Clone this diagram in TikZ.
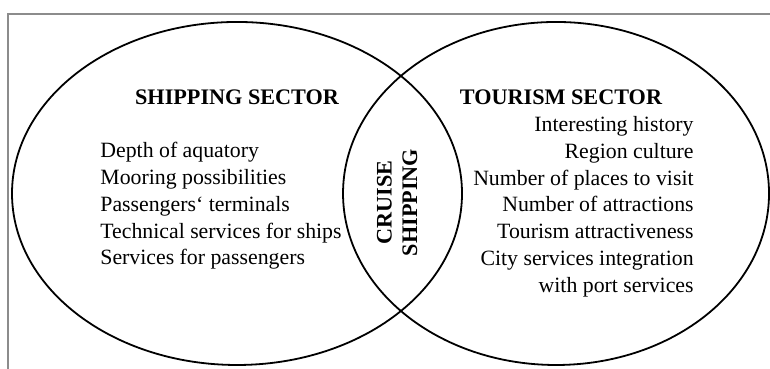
\documentclass[tikz,border=0pt]{standalone}
\usepackage{fontspec}
\setmainfont{Liberation Serif}

\begin{document}
\begin{tikzpicture}[
  sector/.style={line width=0.9pt},
  txt/.style={inner sep=0pt, font=\fontsize{10.9}{13.4}\selectfont},
  head/.style={txt, font=\fontsize{11.1}{13.4}\selectfont\bfseries}]
\useasboundingbox (0, 0) rectangle (13.531, 6.484);
% frame
\draw[line width=1pt, gray!90] (0.132, 0) -- (0.132, 6.238) -- (13.6, 6.238);
% the two sectors
\draw[sector] (4.165, 3.084) ellipse (3.954 and 3.014);
\draw[sector] (9.771, 3.084) ellipse (3.743 and 3.014);
% shipping side
\node[head, anchor=base] (shiphead) at (4.165, 4.639) {SHIPPING SECTOR};
\foreach \item [count=\i] in {Depth of aquatory, Mooring possibilities,
    Passengers‘ terminals, Technical services for ships, Services for passengers}
  \node[txt, anchor=base west] (ship\i) at (1.757, {3.708-0.470*(\i-1)}) {\item};
% tourism side
\node[head, anchor=base] (tourhead) at (9.858, 4.639) {TOURISM SECTOR};
\foreach \item [count=\i] in {Interesting history, Region culture,
    Number of places to visit, Number of attractions, Tourism attractiveness,
    City services integration, with port services}
  \node[txt, anchor=base east] (tour\i) at (12.196, {4.170-0.470*(\i-1)}) {\item};
% overlap
\node[head, rotate=90, anchor=base] (cruise) at (6.883, 2.926) {CRUISE};
\node[head, rotate=90, anchor=base] (shipping) at (7.328, 2.926) {SHIPPING};
\end{tikzpicture}
\end{document}
